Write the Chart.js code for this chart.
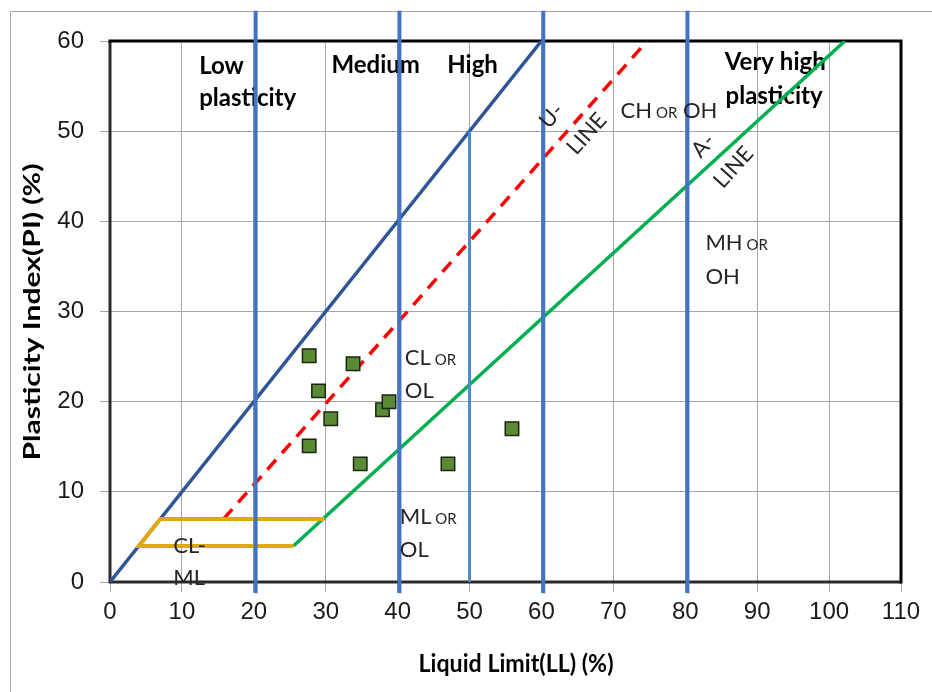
<!DOCTYPE html>
<html>
<head>
<meta charset="utf-8">
<script src="https://cdn.jsdelivr.net/npm/chart.js@4/dist/chart.umd.min.js"></script>
<style>
body { margin: 0; background: #fff; }
#wrap { width: 932px; height: 692px; }
</style>
</head>
<body>
<div id="wrap"><canvas id="plasticityChart" width="932" height="692"></canvas></div>
<script>
// Data sampel tanah (LL, PI)
const soilLL = [27.7, 33.8, 29.0, 30.7, 37.9, 38.8, 27.7, 34.8, 47.0, 55.9];
const soilPI = [25.1, 24.2, 21.2, 18.1, 19.1, 20.0, 15.1, 13.1, 13.1, 17.0];

// Garis batas
const blueLL = [0, 60];
const bluePI = [0, 60];
const uLineLL = [15.8, 74.7];
const uLinePI = [7, 60];
const aLineLL = [25.5, 102.2];
const aLinePI = [4, 60];
const clmlLL = [29.8, 7, 4, 25.5];
const clmlPI = [7, 7, 4, 4];
const zoneLL = [20.25, 40.25, 60.25, 80.3];
const zonePI = [-1.25, 63.35];
const highLL = [50, 50];
const highPI = [0, 50];

// Tick
const xTicks = [0, 10, 20, 30, 40, 50, 60, 70, 80, 90, 100, 110];
const yTicks = [0, 10, 20, 30, 40, 50, 60];

// Label zona: [teks, LL, PI]
const boldLabels = [
    ['Low', 12.4, 57.2],
    ['plasticity', 12.4, 53.6],
    ['Medium', 30.8, 57.3],
    ['High', 46.9, 57.3],
    ['Very high', 85.5, 57.6],
    ['plasticity', 85.6, 53.9]
];
const soilLabels = [
    ['CH OR OH', 71.0, 52.3],
    ['CL OR', 41.0, 25.0],
    ['OL', 41.0, 21.3],
    ['ML OR', 40.3, 7.3],
    ['OL', 40.3, 3.7],
    ['MH OR', 82.8, 37.7],
    ['OH', 82.8, 33.9],
    ['CL-', 8.8, 4.1],
    ['ML', 8.8, 0.6]
];
const lineLabels = [
    ['U-', 61.4, 51.7],
    ['LINE', 66.3, 49.7],
    ['A-', 82.5, 48.4],
    ['LINE', 86.7, 46.0]
];

const pts = (xs, ys) => xs.map((v, i) => ({ x: v, y: ys[i] }));
const TEXT_FONT = 'Lato, Carlito, Calibri, sans-serif';

function lineSet(data, color, width, extra) {
    return Object.assign({
        data: data,
        showLine: true,
        borderColor: color,
        borderWidth: width,
        pointRadius: 0,
        fill: false
    }, extra || {});
}

// urutan: index kecil digambar paling atas
const datasets = [
    {
        data: pts(soilLL, soilPI),
        pointStyle: 'rect',
        pointRadius: 9.5,
        backgroundColor: '#5b8a34',
        borderColor: '#1b2610',
        borderWidth: 1.5
    },
    ...zoneLL.map(v => lineSet(pts([v, v], zonePI), '#4472c4', 4, { clip: false })),
    lineSet(pts(highLL, highPI), '#4f8acb', 3),
    lineSet(pts(clmlLL, clmlPI), '#e2a811', 4),
    lineSet(pts(blueLL, bluePI), '#2f5597', 3.5),
    lineSet(pts(uLineLL, uLinePI), '#ff0000', 3.5, { borderDash: [13, 9] }),
    lineSet(pts(aLineLL, aLinePI), '#00b050', 3.5)
];

function drawRuns(ctx, text, x, y, size) {
    const parts = text.split(' ');
    let cx = x;
    const base = y + size * 0.36;
    ctx.textBaseline = 'alphabetic';
    parts.forEach((p, i) => {
        const small = p === 'OR';
        ctx.font = (small ? Math.round(size * 0.66) : size) + 'px ' + TEXT_FONT;
        const word = (i > 0 ? ' ' : '') + p;
        ctx.fillText(word, cx, base);
        cx += ctx.measureText(word).width;
    });
}

function drawFit(ctx, text, cx, cy, targetW, font, angle) {
    ctx.save();
    ctx.font = font;
    const w = ctx.measureText(text).width;
    ctx.translate(cx, cy);
    ctx.rotate(angle);
    ctx.scale(targetW / w, 1);
    ctx.textAlign = 'center';
    ctx.textBaseline = 'middle';
    ctx.fillText(text, 0, 0);
    ctx.restore();
}

const overlay = {
    id: 'overlay',
    beforeDatasetsDraw(chart) {
        const { ctx, chartArea: a, scales: { x, y } } = chart;
        ctx.save();
        // bingkai luar
        ctx.strokeStyle = '#a6a6a6';
        ctx.lineWidth = 1;
        ctx.beginPath();
        ctx.moveTo(10.5, 692);
        ctx.lineTo(10.5, 11.5);
        ctx.lineTo(932, 11.5);
        ctx.stroke();
        // bingkai plot
        ctx.lineWidth = 3;
        ctx.strokeStyle = '#2b2b2b';
        ctx.beginPath();
        ctx.moveTo(a.left, a.top);
        ctx.lineTo(a.left, a.bottom);
        ctx.lineTo(a.right, a.bottom);
        ctx.stroke();
        ctx.strokeStyle = '#000';
        ctx.beginPath();
        ctx.moveTo(a.left - 1.5, a.top);
        ctx.lineTo(a.right, a.top);
        ctx.lineTo(a.right, a.bottom + 1.5);
        ctx.stroke();

        // label plastisitas
        ctx.fillStyle = '#000';
        ctx.textBaseline = 'middle';
        ctx.textAlign = 'left';
        ctx.font = 'bold 24px ' + TEXT_FONT;
        boldLabels.forEach(([t, ll, pi]) => {
            ctx.fillText(t, x.getPixelForValue(ll), y.getPixelForValue(pi));
        });
        ctx.restore();
    },
    afterDatasetsDraw(chart) {
        const { ctx, scales: { x, y } } = chart;
        ctx.save();
        ctx.fillStyle = '#262626';
        ctx.textAlign = 'left';
        soilLabels.forEach(([t, ll, pi]) => {
            drawRuns(ctx, t, x.getPixelForValue(ll), y.getPixelForValue(pi), 22);
        });
        ctx.textAlign = 'center';
        ctx.textBaseline = 'middle';
        lineLabels.forEach(([t, ll, pi]) => {
            ctx.save();
            ctx.translate(x.getPixelForValue(ll), y.getPixelForValue(pi));
            ctx.rotate(-48 * Math.PI / 180);
            ctx.font = '22px ' + TEXT_FONT;
            ctx.fillText(t, 0, 0);
            ctx.restore();
        });
        ctx.restore();
    },
    afterDraw(chart) {
        const { ctx } = chart;
        ctx.fillStyle = '#000';
        drawFit(ctx, 'Plasticity Index(PI) (%)', 33, 312, 297, 'bold 22px ' + TEXT_FONT, -Math.PI / 2);
        drawFit(ctx, 'Liquid Limit(LL) (%)', 516, 664, 195, 'bold 24px ' + TEXT_FONT, 0);
    }
};

const tickFont = { family: '"Liberation Sans", Arial, sans-serif', size: 24 };

new Chart(document.getElementById('plasticityChart'), {
    type: 'scatter',
    data: { datasets: datasets },
    plugins: [overlay],
    options: {
        responsive: false,
        animation: false,
        layout: { padding: { left: 0, top: 41, right: 31, bottom: 0 } },
        plugins: {
            legend: { display: false },
            tooltip: { enabled: false }
        },
        scales: {
            x: {
                type: 'linear',
                min: xTicks[0],
                max: xTicks[xTicks.length - 1],
                afterBuildTicks: s => { s.ticks = xTicks.map(v => ({ value: v })); },
                afterFit: s => { s.height = 110; },
                grid: { color: '#a6a6a6', lineWidth: 1, tickLength: 10, tickColor: '#a6a6a6' },
                border: { display: false },
                ticks: { font: tickFont, color: '#1a1a1a', padding: 6, maxRotation: 0 }
            },
            y: {
                type: 'linear',
                min: yTicks[0],
                max: yTicks[yTicks.length - 1],
                afterBuildTicks: s => { s.ticks = yTicks.map(v => ({ value: v })); },
                afterFit: s => { s.width = 110; },
                grid: { color: '#a6a6a6', lineWidth: 1, tickLength: 10, tickColor: '#a6a6a6' },
                border: { display: false },
                ticks: { font: tickFont, color: '#1a1a1a', padding: 16 }
            }
        }
    }
});
</script>
</body>
</html>
